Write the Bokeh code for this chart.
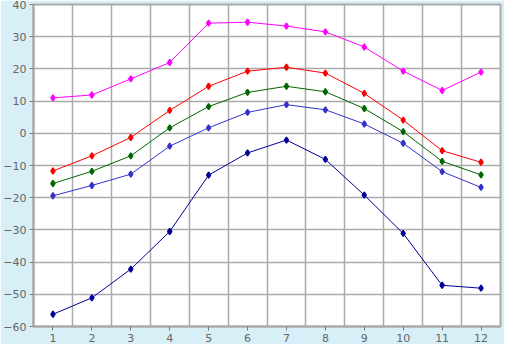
from bokeh.plotting import figure
from bokeh.models import FixedTicker, Range1d, ColumnDataSource
from bokeh.embed import file_html
from bokeh.resources import INLINE

months = [1, 2, 3, 4, 5, 6, 7, 8, 9, 10, 11, 12]
s_magenta = [11.0, 11.9, 16.9, 22.0, 34.2, 34.5, 33.3, 31.5, 26.8, 19.3, 13.3, 19.0]
s_red = [-11.7, -7.0, -1.3, 7.1, 14.6, 19.3, 20.5, 18.7, 12.4, 4.1, -5.4, -9.0]
s_green = [-15.6, -11.8, -7.0, 1.7, 8.3, 12.7, 14.6, 12.9, 7.7, 0.5, -8.7, -12.9]
s_blue = [-19.4, -16.2, -12.7, -4.0, 1.7, 6.5, 8.9, 7.3, 2.9, -3.1, -11.9, -16.8]
s_navy = [-56.2, -51.1, -42.2, -30.5, -13.0, -6.1, -2.1, -8.1, -19.2, -31.1, -47.2, -48.1]
y_ticks = [-60, -50, -40, -30, -20, -10, 0, 10, 20, 30, 40]

series = [
    (s_magenta, "#ff00ff"),
    (s_red, "#ff0000"),
    (s_green, "#006600"),
    (s_blue, "#3333cc"),
    (s_navy, "#000099"),
]

bg = "#d9eff7"
grid = "#aaaaaa"
txt = "#666666"

p = figure(width=504, height=344, output_backend="svg", toolbar_location=None,
           x_range=Range1d(0.5, 12.5), y_range=Range1d(-60, 40),
           background_fill_color="white", border_fill_color=bg,
           min_border_left=18, min_border_right=4, min_border_top=4, min_border_bottom=4)
p.outline_line_color = grid
p.outline_line_width = 2

for vals, col in series:
    src = ColumnDataSource(dict(x=months, y=vals))
    p.line("x", "y", source=src, line_color=col, line_width=1)
    p.scatter("x", "y", source=src, marker="diamond_cross", size=6, fill_color=col,
              line_color=col, line_width=1.5)

p.xaxis.ticker = FixedTicker(ticks=months)
p.yaxis.ticker = FixedTicker(ticks=y_ticks)
p.xgrid.ticker = FixedTicker(ticks=[m + 0.5 for m in months[:-1]])
p.ygrid.ticker = FixedTicker(ticks=y_ticks)
for g in (p.xgrid, p.ygrid):
    g.grid_line_color = grid
    g.grid_line_width = 1.5
for ax in (p.xaxis, p.yaxis):
    ax.axis_line_color = grid
    ax.axis_line_width = 2
    ax.major_tick_line_color = "#777777"
    ax.major_tick_in = 0
    ax.major_tick_out = 4
    ax.minor_tick_line_color = None
    ax.major_label_text_font = "DejaVu Sans"
    ax.major_label_text_font_size = "11px"
    ax.major_label_text_color = txt
    ax.major_label_standoff = 3

open("out.html", "w").write(file_html(p, INLINE))
